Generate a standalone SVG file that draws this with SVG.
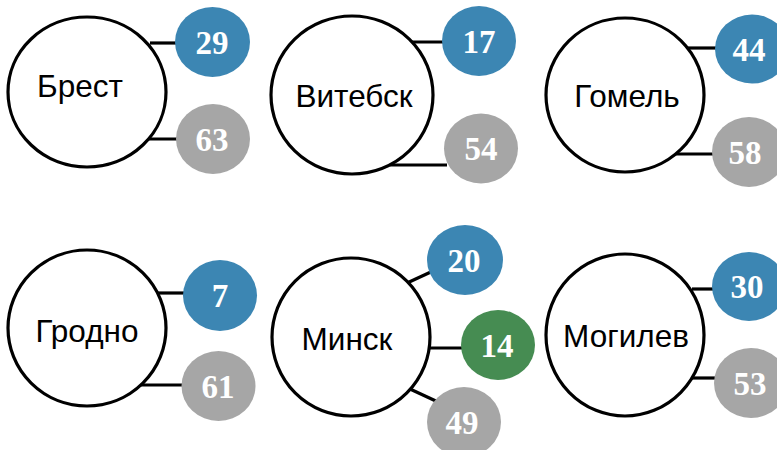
<svg xmlns="http://www.w3.org/2000/svg" width="777" height="450" viewBox="0 0 777 450">
<style>
.city ellipse{fill:#fff;stroke:#000;stroke-width:3.2}
.city text{font-family:"Liberation Sans",Arial,sans-serif;font-size:31.5px;fill:#000;text-anchor:middle}
.num text{font-family:"Liberation Serif","Times New Roman",serif;font-weight:bold;font-size:33px;fill:#fff;text-anchor:middle}
.blue ellipse{fill:#3c86b3}
.gray ellipse{fill:#a6a6a6}
.green ellipse{fill:#468c52}
#connectors line{stroke:#000;stroke-width:3.2}
</style>
<rect width="777" height="450" fill="#fff"/>
<g id="connectors">
<line x1="150" y1="43" x2="178" y2="43"/>
<line x1="145" y1="139" x2="179" y2="139"/>
<line x1="410" y1="42" x2="445" y2="42"/>
<line x1="390" y1="165" x2="447" y2="165"/>
<line x1="686" y1="48" x2="716" y2="48"/>
<line x1="676" y1="154" x2="715" y2="154"/>
<line x1="157" y1="293" x2="186" y2="293"/>
<line x1="140" y1="385" x2="185" y2="385"/>
<line x1="407" y1="283" x2="433" y2="271"/>
<line x1="428" y1="348" x2="464" y2="348"/>
<line x1="410" y1="389" x2="438" y2="402"/>
<line x1="692" y1="289" x2="716" y2="289"/>
<line x1="691" y1="378" x2="717" y2="378"/>
</g>
<g id="brest" class="city"><ellipse cx="87" cy="92" rx="79" ry="75"/><text x="80" y="97">Брест</text></g>
<g id="vitebsk" class="city"><ellipse cx="352" cy="95" rx="81" ry="79"/><text x="354" y="107">Витебск</text></g>
<g id="gomel" class="city"><ellipse cx="625" cy="95" rx="79" ry="77"/><text x="627" y="107">Гомель</text></g>
<g id="grodno" class="city"><ellipse cx="87" cy="328" rx="79" ry="78"/><text x="87" y="342">Гродно</text></g>
<g id="minsk" class="city"><ellipse cx="351" cy="337" rx="79" ry="79"/><text x="347" y="350">Минск</text></g>
<g id="mogilev" class="city"><ellipse cx="625" cy="335" rx="79" ry="81"/><text x="626" y="347">Могилев</text></g>
<g id="n29" class="num blue"><ellipse cx="212.5" cy="42" rx="37.5" ry="35"/><text x="212" y="54">29</text></g>
<g id="n63" class="num gray"><ellipse cx="213" cy="139" rx="37" ry="35"/><text x="212" y="151">63</text></g>
<g id="n17" class="num blue"><ellipse cx="479" cy="41" rx="37" ry="35"/><text x="479" y="53">17</text></g>
<g id="n54" class="num gray"><ellipse cx="481" cy="148.5" rx="37" ry="35"/><text x="481" y="160">54</text></g>
<g id="n44" class="num blue"><ellipse cx="752" cy="49" rx="37" ry="34.5"/><text x="749" y="61">44</text></g>
<g id="n58" class="num gray"><ellipse cx="749" cy="152" rx="37" ry="35"/><text x="745" y="164">58</text></g>
<g id="n7" class="num blue"><ellipse cx="220" cy="295.5" rx="37" ry="35.5"/><text x="220" y="307">7</text></g>
<g id="n61" class="num gray"><ellipse cx="218.5" cy="386" rx="37" ry="35"/><text x="218" y="398">61</text></g>
<g id="n20" class="num blue"><ellipse cx="465" cy="260" rx="38" ry="35"/><text x="464" y="272">20</text></g>
<g id="n14" class="num green"><ellipse cx="498" cy="345" rx="37" ry="35"/><text x="497" y="357">14</text></g>
<g id="n49" class="num gray"><ellipse cx="464" cy="422" rx="37" ry="35"/><text x="462" y="434">49</text></g>
<g id="n30" class="num blue"><ellipse cx="749" cy="286.5" rx="37" ry="34.5"/><text x="747" y="298">30</text></g>
<g id="n53" class="num gray"><ellipse cx="751" cy="383" rx="37" ry="35"/><text x="750" y="395">53</text></g>
</svg>
